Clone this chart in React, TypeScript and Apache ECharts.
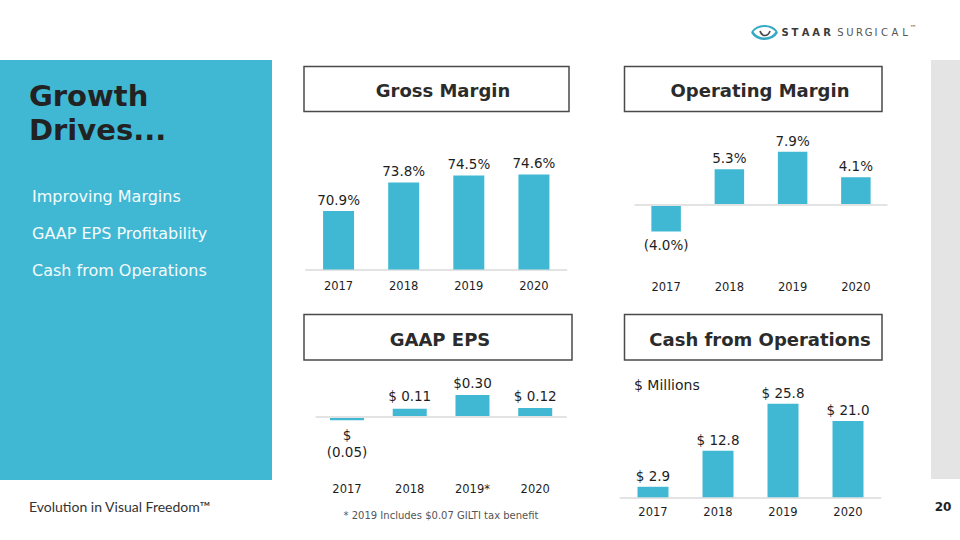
import React, { useEffect, useRef } from "react";
import * as echarts from "echarts";

const years = ["2017", "2018", "2019", "2020"];
const epsYears = ["2017", "2018", "2019*", "2020"];
const grossMargin = [70.9, 73.8, 74.5, 74.6];
const operatingMargin = [-4.0, 5.3, 7.9, 4.1];
const gaapEps = [-0.05, 0.11, 0.3, 0.12];
const epsLabels = ["$\n(0.05)", "$ 0.11", "$0.30", "$ 0.12"];
const cashOps = [2.9, 12.8, 25.8, 21.0];
const bullets = ["Improving Margins", "GAAP EPS Profitability", "Cash from Operations"];
const panelTitles = ["Gross Margin", "Operating Margin", "GAAP EPS", "Cash from Operations"];
const logoBold = "STAAR";
const logoLight = "SURGICAL";

const FONT = "DejaVu Sans";
const BAR = "#41b8d3";
const AXIS = "#e3e3e3";
const TXT = "#1e1e1e";

export default function App() {
  const ref = useRef<HTMLDivElement>(null);

  useEffect(() => {
    if (!ref.current) return;
    const chart = echarts.init(ref.current, null, { renderer: "svg" });

    const labelBase = {
      show: true,
      fontFamily: FONT,
      fontSize: 13.5,
      color: TXT,
    };

    const mkData = (vals: number[]) =>
      vals.map((v) => ({
        value: v,
        label: v < 0 ? { position: "bottom", distance: 6 } : { position: "top", distance: 4 },
      }));

    const xAxisBase = (gridIndex: number, data: string[], showLine: boolean, margin: number) => ({
      type: "category",
      gridIndex,
      data,
      axisLine: { show: showLine, onZero: false, lineStyle: { color: AXIS, width: 2 } },
      axisTick: { show: false },
      axisLabel: { fontFamily: FONT, fontSize: 11.5, color: TXT, margin },
      splitLine: { show: false },
    });

    const yAxisBase = (gridIndex: number, min: number, max: number) => ({
      type: "value",
      gridIndex,
      min,
      max,
      show: false,
    });

    const zeroLine = {
      silent: true,
      symbol: "none",
      label: { show: false },
      lineStyle: { color: AXIS, width: 2, type: "solid" },
      data: [{ yAxis: 0 }],
    };

    // logo letters
    const boldCenters = [785, 795, 805.5, 816, 827];
    const lightCenters = [840.5, 850, 859.5, 868.5, 876, 884.5, 895, 905];
    const logoTexts: any[] = [];
    logoBold.split("").forEach((ch, i) =>
      logoTexts.push({
        type: "text",
        x: boldCenters[i],
        y: 32.5,
        style: {
          text: ch,
          fontFamily: FONT,
          fontWeight: "bold",
          fontSize: 10,
          fill: "#3a3a3a",
          textAlign: "center",
          textVerticalAlign: "middle",
        },
      })
    );
    logoLight.split("").forEach((ch, i) =>
      logoTexts.push({
        type: "text",
        x: lightCenters[i],
        y: 32.5,
        style: {
          text: ch,
          fontFamily: FONT,
          fontSize: 10,
          fill: "#555555",
          textAlign: "center",
          textVerticalAlign: "middle",
        },
      })
    );
    logoTexts.push({
      type: "text",
      x: 913,
      y: 28,
      style: { text: "™", fontFamily: FONT, fontSize: 7, fill: "#555", textAlign: "center", textVerticalAlign: "middle" },
    });

    const boxes = [
      { x: 304, y: 66.5, w: 265, h: 45, tx: 443, ty: 90.5 },
      { x: 624.5, y: 66.5, w: 257.5, h: 45, tx: 760, ty: 90.5 },
      { x: 304, y: 314.5, w: 268, h: 45.5, tx: 440, ty: 339 },
      { x: 624.5, y: 314.5, w: 257.5, h: 45.5, tx: 760, ty: 339 },
    ];

    const graphic: any[] = [
      { type: "rect", shape: { x: 0, y: 60, width: 272, height: 420 }, style: { fill: BAR }, z: -10 },
      { type: "rect", shape: { x: 931, y: 60, width: 29, height: 419 }, style: { fill: "#e4e4e4" }, z: -10 },
      {
        type: "text",
        x: 29,
        y: 96,
        style: { text: "Growth", fontFamily: FONT, fontWeight: "bold", fontSize: 29, fill: "#222", textVerticalAlign: "middle" },
      },
      {
        type: "text",
        x: 29,
        y: 130,
        style: { text: "Drives...", fontFamily: FONT, fontWeight: "bold", fontSize: 29, fill: "#222", textVerticalAlign: "middle" },
      },
      ...bullets.map((b, i) => ({
        type: "text",
        x: 32,
        y: 196 + i * 37,
        style: { text: b, fontFamily: FONT, fontSize: 16, fill: "#f4fbfd", textVerticalAlign: "middle" },
      })),
      ...boxes.map((b) => ({
        type: "rect",
        shape: { x: b.x, y: b.y, width: b.w, height: b.h },
        style: { fill: "#fff", stroke: "#4a4a4a", lineWidth: 1.5 },
      })),
      ...boxes.map((b, i) => ({
        type: "text",
        x: b.tx,
        y: b.ty,
        style: {
          text: panelTitles[i],
          fontFamily: FONT,
          fontWeight: "bold",
          fontSize: 18,
          fill: "#2b2b2b",
          textAlign: "center",
          textVerticalAlign: "middle",
        },
      })),
      {
        type: "text",
        x: 634,
        y: 385,
        style: { text: "$ Millions", fontFamily: FONT, fontSize: 14, fill: TXT, textVerticalAlign: "middle" },
      },
      {
        type: "text",
        x: 441,
        y: 515.5,
        style: {
          text: "* 2019 Includes $0.07 GILTI tax benefit",
          fontFamily: FONT,
          fontSize: 10,
          fill: "#555",
          textAlign: "center",
          textVerticalAlign: "middle",
        },
      },
      {
        type: "text",
        x: 29,
        y: 506,
        style: { text: "Evolution in Visual Freedom™", fontFamily: "Lato", fontSize: 14, fill: "#333", textVerticalAlign: "middle" },
      },
      {
        type: "text",
        x: 943,
        y: 506.5,
        style: { text: "20", fontFamily: FONT, fontWeight: "bold", fontSize: 12, fill: "#222", textAlign: "center", textVerticalAlign: "middle" },
      },
      // eye icon
      {
        type: "bezierCurve",
        shape: { x1: 752, y1: 32, x2: 777, y2: 32, cpx1: 758, cpy1: 24, cpx2: 771, cpy2: 24 },
        style: { stroke: "#35a9c4", lineWidth: 1.8, fill: "none" },
      },
      {
        type: "bezierCurve",
        shape: { x1: 752, y1: 32, x2: 777, y2: 32, cpx1: 758, cpy1: 41, cpx2: 771, cpy2: 41 },
        style: { stroke: "#35a9c4", lineWidth: 2.6, fill: "none" },
      },
      {
        type: "bezierCurve",
        shape: { x1: 760, y1: 31, x2: 770, y2: 31, cpx1: 762, cpy1: 37, cpx2: 768, cpy2: 37 },
        style: { stroke: "#444", lineWidth: 1.6, fill: "none" },
      },
      ...logoTexts,
    ];

    chart.setOption({
      animation: false,
      backgroundColor: "#ffffff",
      grid: [
        { left: 306, top: 170.5, width: 260.5, height: 99 },
        { left: 634.5, top: 137.7, width: 253, height: 134 },
        { left: 315.6, top: 387.9, width: 251, height: 86.4 },
        { left: 620.5, top: 388.4, width: 260, height: 108.9 },
      ],
      xAxis: [
        xAxisBase(0, years, true, 10),
        xAxisBase(1, years, false, 9),
        xAxisBase(2, epsYears, false, 9),
        xAxisBase(3, years, true, 8.5),
      ],
      yAxis: [yAxisBase(0, 65, 75), yAxisBase(1, -10, 10), yAxisBase(2, -0.8, 0.4), yAxisBase(3, 0, 30)],
      series: [
        {
          type: "bar",
          xAxisIndex: 0,
          yAxisIndex: 0,
          barWidth: 31,
          itemStyle: { color: BAR },
          label: { ...labelBase, formatter: (p: any) => `${p.value.toFixed(1)}%` },
          data: mkData(grossMargin),
        },
        {
          type: "bar",
          xAxisIndex: 1,
          yAxisIndex: 1,
          barWidth: 29.5,
          itemStyle: { color: BAR },
          label: {
            ...labelBase,
            formatter: (p: any) =>
              p.value < 0 ? `(${Math.abs(p.value).toFixed(1)}%)` : `${p.value.toFixed(1)}%`,
          },
          markLine: zeroLine,
          data: mkData(operatingMargin),
        },
        {
          type: "bar",
          xAxisIndex: 2,
          yAxisIndex: 2,
          barWidth: 34,
          itemStyle: { color: BAR },
          label: { ...labelBase, lineHeight: 17, formatter: (p: any) => epsLabels[p.dataIndex] },
          markLine: zeroLine,
          data: mkData(gaapEps),
        },
        {
          type: "bar",
          xAxisIndex: 3,
          yAxisIndex: 3,
          barWidth: 31,
          itemStyle: { color: BAR },
          label: { ...labelBase, formatter: (p: any) => `$ ${p.value.toFixed(1)}` },
          data: mkData(cashOps),
        },
      ],
      graphic,
    });

    return () => chart.dispose();
  }, []);

  return (
    <div
      ref={ref}
      style={{ position: "fixed", left: 0, top: 0, width: 960, height: 540, background: "#fff" }}
    />
  );
}
